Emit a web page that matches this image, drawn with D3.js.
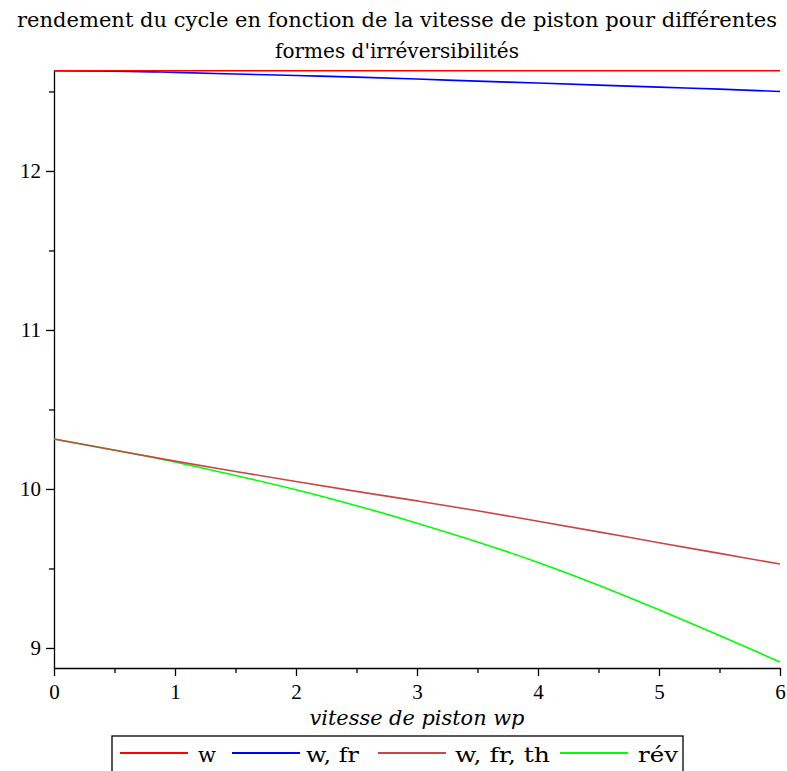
<!DOCTYPE html>
<html>
<head>
<meta charset="utf-8">
<script src="https://cdn.jsdelivr.net/npm/d3@7"></script>
<style>
  body { margin: 0; background: #fff; }
  svg text { font-family: "DejaVu Serif", "Liberation Serif", serif; fill: #000; }
</style>
</head>
<body>
<div id="chart"></div>
<script>
// vitesse de piston wp
const speeds = [0, 0.5, 1, 1.5, 2, 2.5, 3, 3.5, 4, 4.5, 5, 5.5, 6];

// rendement for each form of irreversibility
const wValues     = [12.63, 12.63, 12.63, 12.63, 12.63, 12.63, 12.63, 12.63, 12.63, 12.63, 12.63, 12.63, 12.63];
const wFrValues   = [12.63, 12.628, 12.62, 12.61, 12.60, 12.59, 12.578, 12.565, 12.553, 12.54, 12.527, 12.515, 12.50];
const wFrThValues = [10.314, 10.243, 10.175, 10.11, 10.047, 9.985, 9.925, 9.863, 9.797, 9.73, 9.662, 9.595, 9.528];
const revValues   = [10.314, 10.245, 10.17, 10.085, 9.995, 9.895, 9.785, 9.667, 9.538, 9.395, 9.24, 9.078, 8.912];

const seriesNames  = ["w", "w, fr", "w, fr, th", "rév"];
const seriesColors = ["#ff0000", "#0000ff", "#c84646", "#00ff00"];

const xTicks = [0, 1, 2, 3, 4, 5, 6];
const xMinorTicks = [0.5, 1.5, 2.5, 3.5, 4.5, 5.5];
const yTicks = [9, 10, 11, 12];
const yMinorTicks = [9.5, 10.5, 11.5, 12.5];

const titleLines = ["rendement du cycle en fonction de la vitesse de piston pour différentes",
                    "formes d'irréversibilités"];
const xLabel = "vitesse de piston wp";

function drawChart() {
    const width = 787;
    const height = 771;

    const svg = d3.select('#chart').append('svg')
        .attr('width', width)
        .attr('height', height);

    const x = d3.scaleLinear().domain([0, 6]).range([54, 780]);
    const y = d3.scaleLinear().domain([8.874, 12.635]).range([668, 70]);

    // title (widths pinned to the reference)
    const titleWidths = [760, 244];
    svg.append("g").selectAll("text")
        .data(titleLines)
        .join("text")
        .attr("x", 397)
        .attr("y", (d, i) => 27 + i * 31)
        .attr("text-anchor", "middle")
        .attr("textLength", (d, i) => titleWidths[i])
        .attr("lengthAdjust", "spacingAndGlyphs")
        .style("font-size", "20px")
        .text(d => d);

    // axes
    const xAxis = svg.append("g")
        .attr("transform", `translate(0,${y.range()[0]})`)
        .call(d3.axisBottom(x).tickValues(xTicks).tickSize(8).tickSizeOuter(0).tickPadding(4).tickFormat(d3.format("d")));
    svg.append("g")
        .attr("transform", `translate(0,${y.range()[0]})`)
        .call(d3.axisBottom(x).tickValues(xMinorTicks).tickSize(5).tickSizeOuter(0).tickFormat(""))
        .select(".domain").remove();

    svg.append("g")
        .attr("transform", `translate(${x.range()[0]},0)`)
        .call(d3.axisLeft(y).tickValues(yTicks).tickSize(8).tickSizeOuter(0).tickPadding(5).tickFormat(d3.format("d")));
    svg.append("g")
        .attr("transform", `translate(${x.range()[0]},0)`)
        .call(d3.axisLeft(y).tickValues(yMinorTicks).tickSize(5).tickSizeOuter(0).tickFormat(""))
        .select(".domain").remove();

    svg.selectAll(".tick line, .domain").attr("stroke", "#000").attr("stroke-width", 1.3);
    svg.selectAll(".tick text")
        .style("font-family", '"Liberation Serif", serif')
        .style("font-size", "21px");
    xAxis.selectAll(".tick text").attr("dy", "0.9em");

    // x label
    svg.append("text")
        .attr("x", 417)
        .attr("y", 725)
        .attr("text-anchor", "middle")
        .attr("textLength", 215)
        .attr("lengthAdjust", "spacingAndGlyphs")
        .style("font-size", "20px")
        .style("font-style", "italic")
        .text(xLabel);

    // curves
    const allSeries = [wValues, wFrValues, wFrThValues, revValues];
    const line = d3.line()
        .x((d, i) => x(speeds[i]))
        .y(d => y(d))
        .curve(d3.curveMonotoneX);

    // draw back to front so the order matches the picture
    [3, 2, 1, 0].forEach(k => {
        svg.append("path")
            .datum(allSeries[k])
            .attr("fill", "none")
            .attr("stroke", seriesColors[k])
            .attr("stroke-width", 1.6)
            .attr("d", line);
    });

    // legend
    const legend = svg.append("g");
    legend.append("rect")
        .attr("x", 112)
        .attr("y", 736)
        .attr("width", 571)
        .attr("height", 60)
        .attr("fill", "#fff")
        .attr("stroke", "#000")
        .attr("stroke-width", 1.3);

    const lineStarts = [120, 232, 378, 560];
    const labelStarts = [198, 306, 455, 638];
    const labelWidths = [18, 53, 95, 40];
    seriesNames.forEach((name, i) => {
        legend.append("line")
            .attr("x1", lineStarts[i])
            .attr("x2", lineStarts[i] + 68)
            .attr("y1", 753)
            .attr("y2", 753)
            .attr("stroke", seriesColors[i])
            .attr("stroke-width", 1.8);
        legend.append("text")
            .attr("x", labelStarts[i])
            .attr("y", 762)
            .attr("textLength", labelWidths[i])
            .attr("lengthAdjust", "spacingAndGlyphs")
            .style("font-size", "21px")
            .text(name);
    });
}

drawChart();
</script>
</body>
</html>
